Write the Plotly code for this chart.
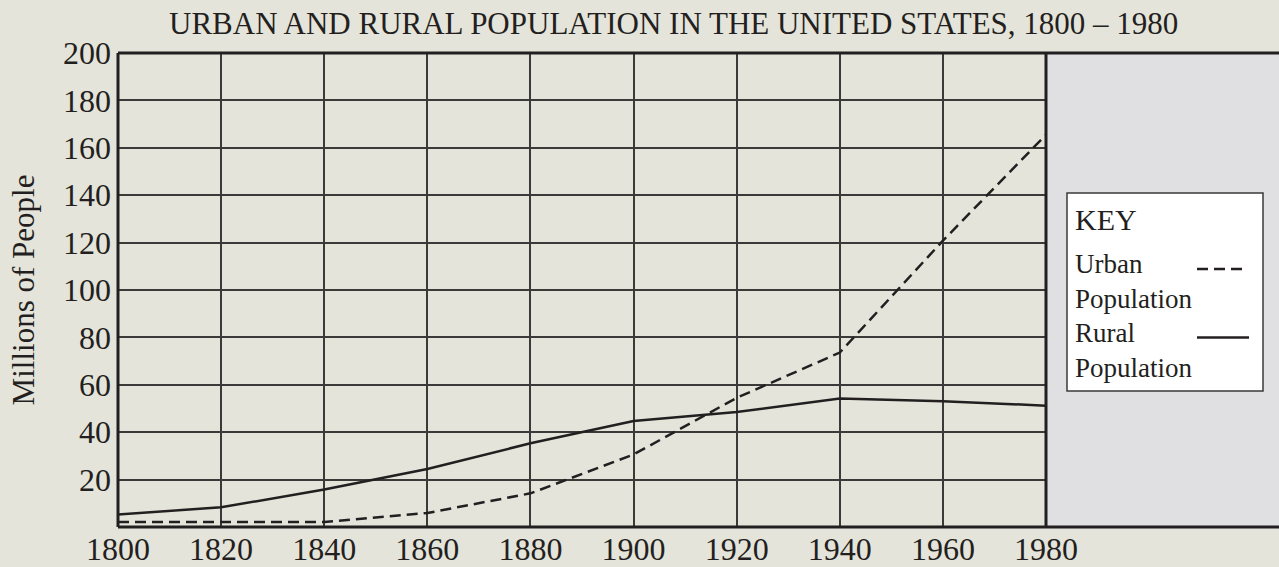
import plotly.graph_objects as go

years = [1800, 1820, 1840, 1860, 1880, 1900, 1920, 1940, 1960, 1980]
urban = [2.1, 2.1, 2.1, 5.9, 14.2, 30.6, 54.5, 73.6, 120.8, 165.5]
rural = [5.3, 8.3, 15.8, 24.5, 35.3, 44.7, 48.5, 54.2, 53.1, 51.2]
x_ticks = [1800, 1820, 1840, 1860, 1880, 1900, 1920, 1940, 1960, 1980]
y_ticks = [20, 40, 60, 80, 100, 120, 140, 160, 180, 200]

W, H = 1279, 567
L, R, T, B = 118, 1046, 53, 527
FONT = "Liberation Serif"
INK = "#231f20"
GRID = "#3b3a38"

def px(x):
    return (x - L) / (R - L)

def py(y):
    return (B - y) / (B - T)

fig = go.Figure()
fig.add_trace(go.Scatter(x=years, y=rural, mode="lines", name="Rural Population",
                         line=dict(color=INK, width=2.5), showlegend=False))
fig.add_trace(go.Scatter(x=years, y=urban, mode="lines", name="Urban Population",
                         line=dict(color=INK, width=2.5, dash="11px,6px"), showlegend=False))

shapes = []
shapes.append(dict(type="rect", xref="paper", yref="paper", x0=1, x1=px(W + 2), y0=0, y1=1,
                   fillcolor="#e0e0e2", line=dict(width=0), layer="below"))
shapes.append(dict(type="line", xref="paper", yref="paper", x0=0, x1=px(W + 2), y0=1, y1=1,
                   line=dict(color=INK, width=3)))
shapes.append(dict(type="line", xref="paper", yref="paper", x0=0, x1=px(W + 2), y0=0, y1=0,
                   line=dict(color=INK, width=3)))
shapes.append(dict(type="line", xref="paper", yref="paper", x0=0, x1=0, y0=0, y1=1,
                   line=dict(color=INK, width=3)))
shapes.append(dict(type="line", xref="paper", yref="paper", x0=1, x1=1, y0=0, y1=1,
                   line=dict(color=INK, width=3)))
shapes.append(dict(type="rect", xref="paper", yref="paper", x0=px(1067), x1=px(1263),
                   y0=py(391), y1=py(193), fillcolor="white", line=dict(color="#3a3a3a", width=1.5)))
shapes.append(dict(type="line", xref="paper", yref="paper", x0=px(1197), x1=px(1246),
                   y0=py(269), y1=py(269), line=dict(color=INK, width=2.5, dash="11px,6px")))
shapes.append(dict(type="line", xref="paper", yref="paper", x0=px(1197), x1=px(1249),
                   y0=py(337.5), y1=py(337.5), line=dict(color=INK, width=2.5)))

annotations = []
def txt(s, x, y, size=26):
    annotations.append(dict(text=s, xref="paper", yref="paper", x=px(x), y=py(y),
                            xanchor="left", yanchor="middle", showarrow=False, align="left",
                            borderpad=0,
                            font=dict(family=FONT, size=size, color=INK)))
txt("KEY", 1074, 219, 30)
txt("Urban<br>Population", 1074, 281, 27)
txt("Rural<br>Population", 1074, 350, 27)

annotations.append(dict(text="URBAN AND RURAL POPULATION IN THE UNITED STATES, 1800 \u2013 1980",
                        xref="paper", yref="paper", x=px(673), y=py(23), xanchor="center",
                        yanchor="middle", showarrow=False,
                        font=dict(family=FONT, size=31, color=INK)))

fig.update_layout(
    width=W, height=H,
    margin=dict(l=L, r=W - R, t=T, b=H - B, pad=0, autoexpand=False),
    paper_bgcolor="#e5e4da", plot_bgcolor="#e5e4da",
    shapes=shapes, annotations=annotations,
    font=dict(family=FONT, color=INK),
    xaxis=dict(range=[1800, 1980], tickvals=x_ticks, ticktext=[str(v) for v in x_ticks],
               showgrid=True, gridcolor=GRID, gridwidth=1.6, zeroline=False, automargin=False,
               showline=False, ticks="", tickfont=dict(family=FONT, size=32, color=INK)),
    yaxis=dict(range=[0, 200], tickvals=y_ticks, ticktext=[str(v) for v in y_ticks],
               showgrid=True, gridcolor=GRID, gridwidth=1.6, zeroline=False, automargin=False,
               showline=False, ticks="", ticklabelstandoff=6,
               tickfont=dict(family=FONT, size=32, color=INK),
               title=dict(text="Millions of People", standoff=19,
                          font=dict(family=FONT, size=31, color=INK))),
)

fig.write_html("out.html", config={"displayModeBar": False},
               post_script="document.body.style.margin='0';")
